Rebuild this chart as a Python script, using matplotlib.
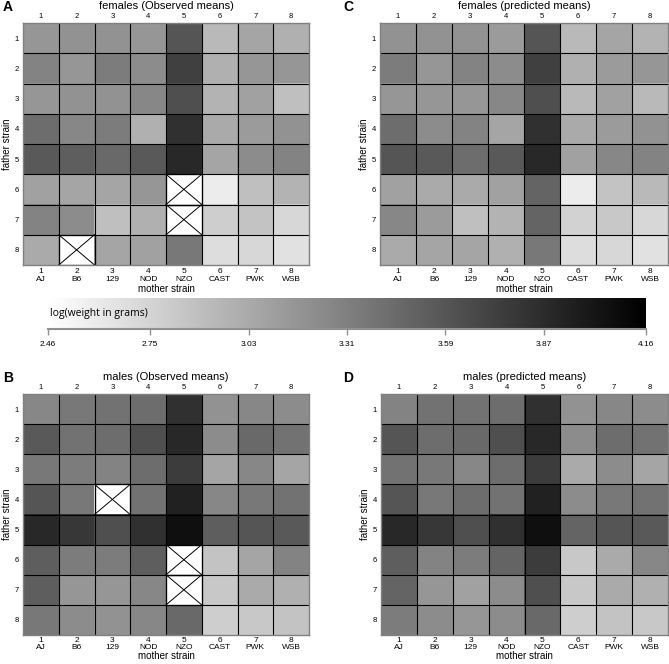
import numpy as np
import matplotlib
matplotlib.use("Agg")
import matplotlib.pyplot as plt
from matplotlib.cm import ScalarMappable
from matplotlib.colors import Normalize

plt.rcParams['font.family'] = ['Liberation Sans', 'DejaVu Sans']

nan = np.nan
strains = ['AJ', 'B6', '129', 'NOD', 'NZO', 'CAST', 'PWK', 'WSB']
cbar_ticks = [2.46, 2.75, 3.03, 3.31, 3.59, 3.87, 4.16]
vmin, vmax = 2.46, 4.16

# log(weight in grams), rows = father strain 1..8, cols = mother strain 1..8
females_obs = [
    [3.16, 3.19, 3.19, 3.16, 3.59, 2.93, 3.06, 2.99],
    [3.29, 3.16, 3.33, 3.23, 3.73, 2.99, 3.16, 3.16],
    [3.16, 3.19, 3.19, 3.26, 3.63, 2.96, 3.09, 2.89],
    [3.43, 3.26, 3.33, 2.99, 3.83, 3.03, 3.13, 3.19],
    [3.56, 3.53, 3.46, 3.56, 3.89, 3.06, 3.23, 3.29],
    [3.09, 3.06, 3.06, 3.16, nan, 2.59, 2.89, 2.96],
    [3.29, 3.23, 2.89, 2.99, nan, 2.79, 2.86, 2.73],
    [3.03, nan, 3.06, 3.09, 3.36, 2.69, 2.73, 2.66],
]
females_pred = [
    [3.19, 3.19, 3.19, 3.13, 3.59, 2.93, 3.06, 2.96],
    [3.33, 3.16, 3.29, 3.23, 3.73, 2.99, 3.13, 3.16],
    [3.16, 3.16, 3.16, 3.26, 3.63, 2.93, 3.09, 2.93],
    [3.43, 3.23, 3.29, 3.06, 3.83, 3.03, 3.13, 3.19],
    [3.59, 3.56, 3.43, 3.56, 3.89, 3.09, 3.26, 3.29],
    [3.09, 3.03, 3.03, 3.09, 3.49, 2.59, 2.86, 2.93],
    [3.26, 3.13, 2.89, 2.96, 3.49, 2.76, 2.83, 2.73],
    [3.03, 3.06, 3.06, 2.99, 3.36, 2.69, 2.73, 2.66],
]
males_obs = [
    [3.26, 3.36, 3.39, 3.43, 3.83, 3.19, 3.26, 3.23],
    [3.56, 3.39, 3.43, 3.63, 3.89, 3.23, 3.46, 3.39],
    [3.36, 3.33, 3.29, 3.43, 3.76, 3.06, 3.26, 3.06],
    [3.59, 3.36, nan, 3.39, 3.93, 3.26, 3.36, 3.39],
    [3.89, 3.79, 3.63, 3.83, 4.06, 3.53, 3.59, 3.56],
    [3.53, 3.33, 3.33, 3.53, nan, 2.86, 3.06, 3.29],
    [3.53, 3.16, 3.16, 3.26, nan, 2.83, 3.03, 2.99],
    [3.36, 3.23, 3.19, 3.26, 3.46, 2.79, 2.83, 2.86],
]
males_pred = [
    [3.29, 3.39, 3.39, 3.43, 3.83, 3.19, 3.26, 3.23],
    [3.59, 3.43, 3.46, 3.63, 3.89, 3.23, 3.43, 3.39],
    [3.39, 3.36, 3.26, 3.43, 3.76, 3.03, 3.23, 3.06],
    [3.59, 3.36, 3.43, 3.39, 3.93, 3.23, 3.36, 3.39],
    [3.89, 3.79, 3.63, 3.83, 4.06, 3.49, 3.59, 3.56],
    [3.53, 3.29, 3.33, 3.49, 3.76, 2.83, 3.03, 3.26],
    [3.49, 3.16, 3.09, 3.23, 3.63, 2.83, 3.03, 2.99],
    [3.33, 3.23, 3.16, 3.23, 3.46, 2.79, 2.86, 2.83],
]

W, H = 669, 664
fig = plt.figure(figsize=(W / 100, H / 100), dpi=100)


def px_axes(l, t, r, b):
    return fig.add_axes([l / W, 1 - b / H, (r - l) / W, (b - t) / H])


def heat(rect, data, title, letter, letter_x, roomy):
    ax = px_axes(*rect)
    d = np.array(data, dtype=float)
    ax.imshow(np.ma.masked_invalid(d), cmap='gray_r', vmin=vmin, vmax=vmax,
              aspect='auto', interpolation='nearest',
              extent=(0.5, 8.5, 8.5, 0.5))
    ax.set_facecolor('white')
    for k in np.arange(1.5, 8.5, 1):
        ax.axhline(k, color='black', lw=0.8)
        ax.axvline(k, color='black', lw=0.8)
    # missing crosses: boxed X
    for i, j in zip(*np.where(np.isnan(d))):
        x0, x1 = j + 0.5, j + 1.5
        y0, y1 = i + 0.5, i + 1.5
        ax.plot([x0, x1], [y0, y1], color='black', lw=0.7)
        ax.plot([x0, x1], [y1, y0], color='black', lw=0.7)
        ax.plot([x0, x1, x1, x0, x0], [y0, y0, y1, y1, y0], color='black', lw=0.9)
    ax.set_xlim(0.5, 8.5)
    ax.set_ylim(8.5, 0.5)
    for s in ax.spines.values():
        s.set_color('#808080')
        s.set_linewidth(1.0)
    ax.set_xticks(range(1, 9))
    ax.set_xticklabels([f"{k}\n{s}" for k, s in zip(range(1, 9), strains)],
                       fontsize=6, linespacing=1.1 if roomy else 0.95)
    ax.set_yticks(range(1, 9))
    ax.set_yticklabels([str(k) for k in range(1, 9)], fontsize=5.5)
    ax.tick_params(length=0, pad=3)
    ax.tick_params(axis='x', pad=2.5 if roomy else 1.5)
    ax.set_xlabel('mother strain', fontsize=7, labelpad=1 if roomy else 0)
    ax.set_ylabel('father strain', fontsize=7, labelpad=2)

    top = ax.secondary_xaxis('top')
    top.set_xticks(range(1, 9))
    top.set_xticklabels([str(k) for k in range(1, 9)], fontsize=5.5)
    top.tick_params(length=0, pad=2)
    top.spines['top'].set_visible(False)

    cx = (rect[0] + rect[2]) / 2
    fig.text(cx / W, 1 - (rect[1] - 17) / H, title, fontsize=8,
             ha='center', va='center')
    fig.text(letter_x / W, 1 - (rect[1] - 16) / H, letter, fontsize=10,
             fontweight='bold', ha='left', va='center')
    return ax


heat((23, 23, 309, 265), females_obs, 'females (Observed means)', 'A', 3, True)
heat((380, 23, 668, 265), females_pred, 'females (predicted means)', 'C', 343, True)
heat((23, 394, 309, 635), males_obs, 'males (Observed means)', 'B', 3, False)
heat((381, 394, 668, 635), males_pred, 'males (predicted means)', 'D', 343, False)

# colour bar
cax = px_axes(48, 298, 646, 329)
sm = ScalarMappable(norm=Normalize(vmin, vmax), cmap='gray_r')
cb = fig.colorbar(sm, cax=cax, orientation='horizontal', ticks=cbar_ticks)
cb.outline.set_visible(False)
for s in cax.spines.values():
    s.set_visible(False)
cax.axhline(0, color='#909090', lw=1.5, clip_on=False)
cb.ax.set_xticklabels([f"{t:.2f}" for t in cbar_ticks], fontsize=6)
cb.ax.tick_params(length=4, width=1, color='#909090', pad=5)
cax.text(0.003, 0.5, 'log(weight in grams)', transform=cax.transAxes,
         fontsize=7.5, ha='left', va='center', family='Open Sans')

fig.savefig('out.png', dpi=100)
